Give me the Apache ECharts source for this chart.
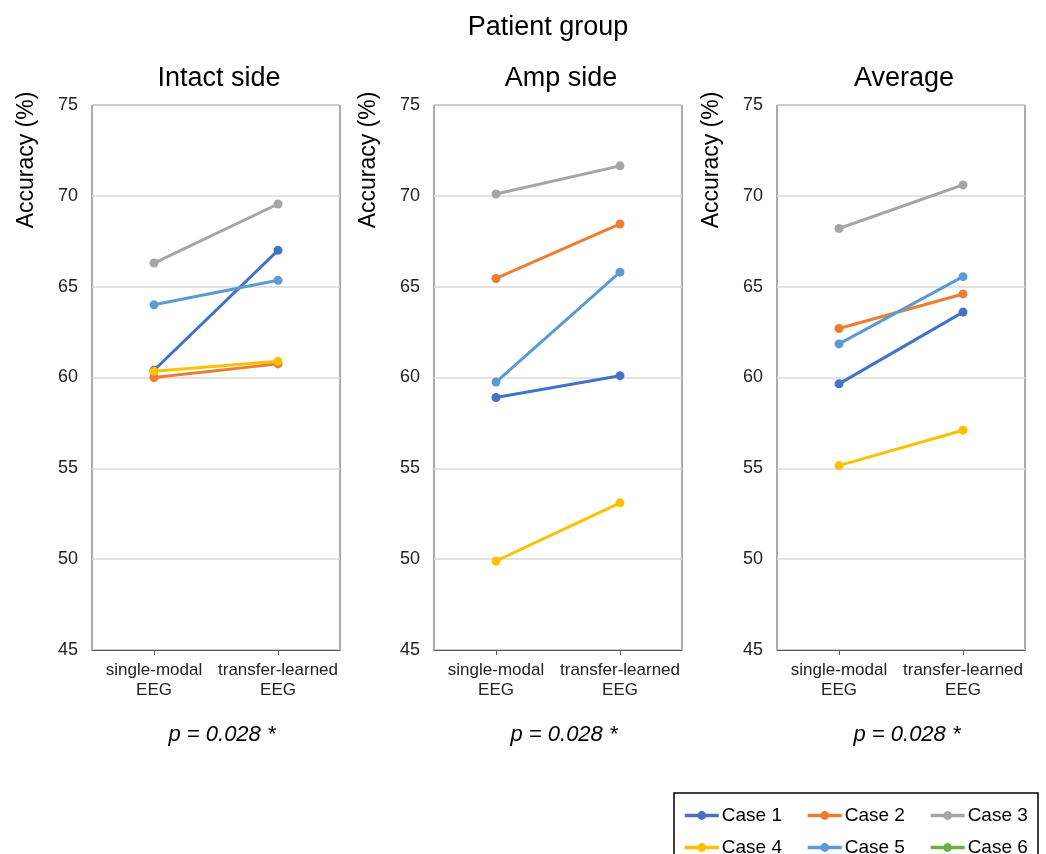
<!DOCTYPE html>
<html>
<head>
<meta charset="utf-8">
<script src="https://cdn.jsdelivr.net/npm/echarts@6/dist/echarts.min.js"></script>
<style>
html,body{margin:0;padding:0;background:#fff;}
#chart{width:1046px;height:854px;}
</style>
</head>
<body>
<div id="chart"></div>
<script>
// ---- Data ----
const categories = ['single-modal\nEEG', 'transfer-learned\nEEG'];
const panelTitles = ['Intact side', 'Amp side', 'Average'];
const pLabels = ['p = 0.028 *', 'p = 0.028 *', 'p = 0.028 *'];
const caseNames = ['Case 1', 'Case 2', 'Case 3', 'Case 4', 'Case 5', 'Case 6'];
const yTicks = [45, 50, 55, 60, 65, 70, 75];
// values per case: [single-modal, transfer-learned]
const intactSide = [[60.4, 67.0], [60.0, 60.75], [66.3, 69.55], [60.35, 60.9], [64.0, 65.35], []];
const ampSide    = [[58.9, 60.1], [65.45, 68.45], [70.1, 71.65], [49.9, 53.1], [59.75, 65.8], []];
const average    = [[59.65, 63.6], [62.7, 64.6], [68.2, 70.6], [55.15, 57.1], [61.85, 65.55], []];

// ---- Styling ----
const colors = ['#4472C4', '#ED7D31', '#A5A5A5', '#FFC000', '#5B9BD5', '#70AD47'];
const FONT = '"Liberation Sans", Arial, sans-serif';
const panelData = [intactSide, ampSide, average];
const gridLefts = [92, 434, 777];
const gridW = 248, gridTop = 105, gridH = 545;

const grids = [], xAxes = [], yAxes = [], series = [], titles = [], graphics = [];

titles.push({ text: 'Patient group', left: 543, top: 9, textAlign: 'center',
  textStyle: { fontFamily: FONT, fontSize: 27, fontWeight: 'normal', color: '#000' } });

panelData.forEach((pd, i) => {
  const left = gridLefts[i];
  grids.push({ left: left, top: gridTop, width: gridW, height: gridH, show: true,
    borderColor: '#595959', borderWidth: 1, backgroundColor: 'transparent' });
  xAxes.push({ type: 'category', gridIndex: i, data: categories, boundaryGap: true,
    axisLine: { show: true, lineStyle: { color: '#595959', width: 1 } },
    axisTick: { show: true, alignWithLabel: true, length: 5, lineStyle: { color: '#595959' } },
    axisLabel: { interval: 0, hideOverlap: false, fontFamily: FONT, fontSize: 17, color: '#222', lineHeight: 20, margin: 10 },
    splitLine: { show: false } });
  yAxes.push({ type: 'value', gridIndex: i, min: yTicks[0], max: yTicks[yTicks.length - 1], interval: 5,
    axisLine: { show: false }, axisTick: { show: false },
    axisLabel: { fontFamily: FONT, fontSize: 18, color: '#222', margin: 14 },
    splitLine: { show: true, lineStyle: { color: '#d9d9d9', width: 1.5 } } });
  titles.push({ text: panelTitles[i], left: left + gridW / 2 - 2, top: 60, textAlign: 'center',
    textStyle: { fontFamily: FONT, fontSize: 27, fontWeight: 'normal', color: '#000' } });
  titles.push({ text: pLabels[i], left: left + gridW / 2 + 1, top: 719, textAlign: 'center',
    textStyle: { fontFamily: FONT, fontSize: 22, fontStyle: 'italic', fontWeight: 'normal', color: '#000' } });
  graphics.push({ type: 'text', x: left - 65, y: 160, rotation: Math.PI / 2,
    style: { text: 'Accuracy (%)', align: 'center', verticalAlign: 'middle',
      font: '23px ' + FONT, fill: '#000' } });
  caseNames.forEach((name, c) => {
    series.push({ name: name, type: 'line', xAxisIndex: i, yAxisIndex: i,
      data: pd[c], symbol: 'circle', symbolSize: 9, color: colors[c],
      lineStyle: { width: 3, color: colors[c] }, itemStyle: { color: colors[c] },
      animation: false, z: 2 + c });
  });
});

graphics.push({ type: 'rect', shape: { x: 674, y: 793, width: 364, height: 66 },
  style: { fill: 'none', stroke: '#000', lineWidth: 1.5 }, z: 10 });

const legendCommon = { itemWidth: 34, itemHeight: 11, itemGap: 24,
  lineStyle: { width: 3.5 },
  textStyle: { fontFamily: FONT, fontSize: 19, color: '#000', padding: [0, 0, 0, -2] } };

const chart = echarts.init(document.getElementById('chart'), null, { renderer: 'canvas' });
chart.setOption({
  backgroundColor: '#fff',
  animation: false,
  title: titles,
  grid: grids,
  xAxis: xAxes,
  yAxis: yAxes,
  legend: [
    Object.assign({}, legendCommon, { data: caseNames.slice(0, 3), left: 678, top: 801 }),
    Object.assign({}, legendCommon, { data: caseNames.slice(3, 6), left: 678, top: 833 })
  ],
  graphic: graphics,
  series: series
});
</script>
</body>
</html>
